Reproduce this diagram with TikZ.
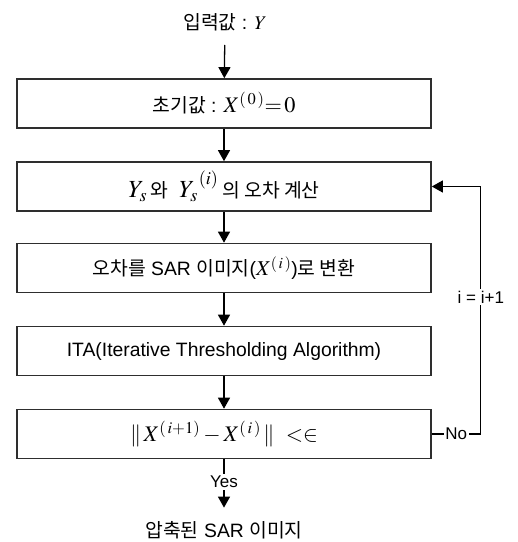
\documentclass[tikz,border=0pt]{standalone}
\usepackage{mathptmx}
\usepackage{fontspec}
\setmainfont{Liberation Sans}
\newfontfamily\kr{Noto Sans CJK KR}
\usetikzlibrary{arrows.meta,positioning}
\definecolor{bline}{HTML}{2E2E2E}
\newcommand{\bigmath}{\fontsize{21}{24}\selectfont}
\tikzset{
  % Plain white process box with a dark stroke.
  box/.style  = {rectangle, draw=bline, line width=1.4pt, fill=white, align=center,
                 minimum width=12.42cm, minimum height=1.47cm, inner sep=4pt,
                 font=\fontsize{16.5}{19}\selectfont},
  term/.style = {align=center, inner sep=2pt, font=\fontsize{16.5}{19}\selectfont},
  lane/.style = {-{Triangle[length=3.3mm,width=3.6mm]}, line width=1.1pt, black},
  tag/.style  = {font=\fontsize{14.5}{17}\selectfont, fill=white, inner sep=1.5pt},
}
\begin{document}
\begin{tikzpicture}
\useasboundingbox (0,0) rectangle (15.54,-16.26);
\node[term] (in)   at (6.75,-0.66)  {{\kr 입력값} : $Y$};
\node[box]  (init) at (6.72,-3.105) {{\kr 초기값} : {\fontsize{19}{22}\selectfont$X^{(\,0\,)} {=}\, 0$}};
\node[box]  (err)  at (6.72,-5.595) {{\bigmath$Y_{s}$}\kern3pt{\kr 와}\ \ {\bigmath$Y_{s}^{\;(i)}$}\kern3pt{\kr 의 오차 계산}};
\node[box]  (conv) at (6.72,-8.04)  {{\kr 오차를} SAR {\kr 이미지}({\fontsize{18}{20}\selectfont$X^{(\,i\,)}$}){\kr 로 변환}};
\node[box]  (ita)  at (6.72,-10.53) {ITA(Iterative Thresholding Algorithm)};
\node[box]  (chk)  at (6.72,-13.02) {\fontsize{19}{22}\selectfont$\Vert\, X^{(\,i+1)} - X^{(\,i\,)} \,\Vert\ < \in$};
\node[term] (out)  at (6.72,-15.9)  {{\kr 압축된} SAR {\kr 이미지}};
\draw[lane, shorten <=3.5mm] (in) -- (init);
\draw[lane] (init) -- (err);
\draw[lane] (err) -- (conv);
\draw[lane] (conv) -- (ita);
\draw[lane] (ita) -- (chk);
\draw[lane, shorten >=3.3mm] (chk) -- node[tag, pos=0.38] {Yes} (out);
\draw[lane] (chk.east) -- node[tag] {No} ++(1.47,0)
      |- node[tag, pos=0.277] {i = i+1} (err.east);
\end{tikzpicture}
\end{document}
